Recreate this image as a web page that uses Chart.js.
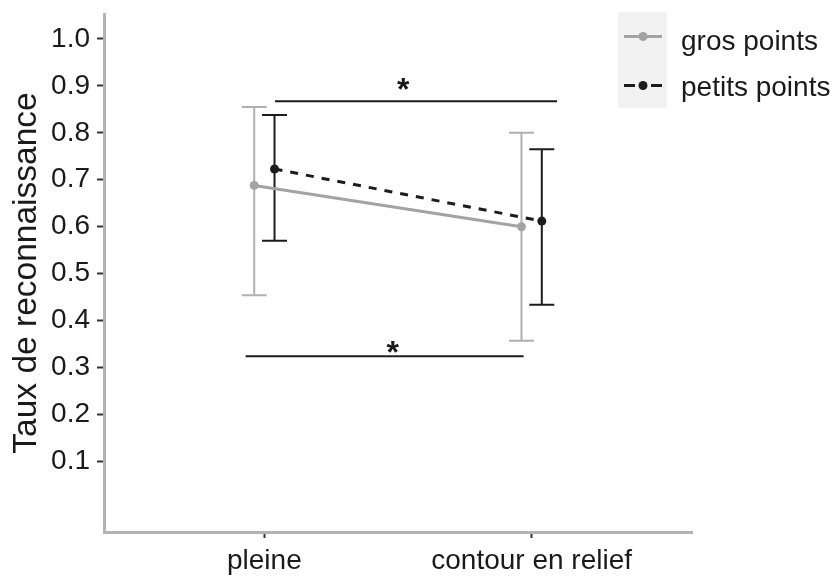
<!DOCTYPE html>
<html>
<head>
<meta charset="utf-8">
<script src="https://cdn.jsdelivr.net/npm/chart.js@4.4.0/dist/chart.umd.min.js"></script>
<style>
  html, body { margin: 0; padding: 0; background: #fff; }
</style>
</head>
<body>
<canvas id="chart" width="837" height="577"></canvas>
<script>
let conditions = ['pleine', 'contour en relief'];
let seriesNames = ['gros points', 'petits points'];

let grosMean = [0.688, 0.600];
let grosLow = [0.454, 0.357];
let grosHigh = [0.855, 0.800];

let petitsMean = [0.723, 0.612];
let petitsLow = [0.570, 0.434];
let petitsHigh = [0.838, 0.765];

let yTicks = [0.1, 0.2, 0.3, 0.4, 0.5, 0.6, 0.7, 0.8, 0.9, 1.0];

// significance brackets (x from / to, line level, star position)
let sigFrom = [1.04, 0.93];
let sigTo = [2.095, 1.97];
let sigLevel = [0.867, 0.324];
let sigStarX = [1.52, 1.48];
let sigStarY = [0.909, 0.349];

let dodge = 0.038;
let grey = '#a3a3a3';
let greyBar = '#b0b0b0';
let dark = '#1c1c1c';
let textCol = '#1a1a1a';
let fontFam = "'Liberation Sans', Arial, sans-serif";

const errorBars = {
    id: 'errorBars',
    beforeDatasetsDraw(chart) {
        const {ctx, scales: {x, y}} = chart;
        const groups = [
            [grosLow, grosHigh, -dodge, greyBar],
            [petitsLow, petitsHigh, dodge, dark]
        ];
        ctx.save();
        ctx.lineWidth = 2;
        groups.forEach(([lo, hi, off, col]) => {
            ctx.strokeStyle = col;
            lo.forEach((v, i) => {
                const px = x.getPixelForValue(i + 1 + off);
                const top = y.getPixelForValue(hi[i]);
                const bot = y.getPixelForValue(v);
                ctx.beginPath();
                ctx.moveTo(px, top); ctx.lineTo(px, bot);
                ctx.moveTo(px - 12.5, top); ctx.lineTo(px + 12.5, top);
                ctx.moveTo(px - 12.5, bot); ctx.lineTo(px + 12.5, bot);
                ctx.stroke();
            });
        });
        ctx.restore();
    },
    afterDatasetsDraw(chart) {
        const {ctx, scales: {x, y}} = chart;
        ctx.save();
        ctx.fillStyle = textCol;
        ctx.font = 'bold 32px ' + fontFam;
        ctx.textAlign = 'center';
        ctx.textBaseline = 'alphabetic';
        sigStarX.forEach((sx, i) => {
            ctx.fillText('*', x.getPixelForValue(sx), y.getPixelForValue(sigStarY[i]) + 18.5);
        });
        ctx.restore();
    }
};

// legend with line + point keys on a light grey panel
const legendKeys = {
    id: 'legendKeys',
    afterDraw(chart) {
        const ctx = chart.ctx;
        ctx.save();
        ctx.fillStyle = '#f2f2f2';
        ctx.fillRect(618, 12, 49, 96);

        ctx.lineWidth = 3;
        ctx.strokeStyle = grey;
        ctx.beginPath(); ctx.moveTo(624, 36.5); ctx.lineTo(662, 36.5); ctx.stroke();
        ctx.fillStyle = grey;
        ctx.beginPath(); ctx.arc(643, 36.5, 4.5, 0, Math.PI * 2); ctx.fill();

        ctx.strokeStyle = dark;
        ctx.beginPath();
        ctx.moveTo(624, 85.5); ctx.lineTo(635, 85.5);
        ctx.moveTo(651, 85.5); ctx.lineTo(662, 85.5);
        ctx.stroke();
        ctx.fillStyle = dark;
        ctx.beginPath(); ctx.arc(643, 85.5, 4.5, 0, Math.PI * 2); ctx.fill();

        ctx.fillStyle = textCol;
        ctx.font = '28px ' + fontFam;
        ctx.textAlign = 'left';
        ctx.textBaseline = 'middle';
        ctx.fillText(seriesNames[0], 681, 42);
        ctx.fillText(seriesNames[1], 681, 88);
        ctx.restore();
    }
};

function noPadding(s) {
    s.paddingTop = 0;
    s.paddingBottom = 0;
    s.paddingLeft = 0;
    s.paddingRight = 0;
}

let sigDatasets = sigFrom.map(function(x0, i) {
    return {
        label: 'sig' + i,
        data: [{x: x0, y: sigLevel[i]}, {x: sigTo[i], y: sigLevel[i]}],
        borderColor: dark,
        borderWidth: 2,
        pointRadius: 0
    };
});

let chart = new Chart(document.getElementById('chart'), {
    type: 'line',
    data: {
        datasets: [
            {
                label: seriesNames[1],
                data: petitsMean.map(function(v, i) {return {x: i + 1 + dodge, y: v};}),
                borderColor: dark,
                backgroundColor: dark,
                borderWidth: 3,
                borderDash: [8, 8],
                pointRadius: 4.5,
                pointBorderWidth: 0
            },
            {
                label: seriesNames[0],
                data: grosMean.map(function(v, i) {return {x: i + 1 - dodge, y: v};}),
                borderColor: grey,
                backgroundColor: grey,
                borderWidth: 3,
                pointRadius: 4.5,
                pointBorderWidth: 0
            }
        ].concat(sigDatasets)
    },
    options: {
        responsive: false,
        animation: false,
        devicePixelRatio: 1,
        layout: {padding: {top: 14, right: 145, left: 0, bottom: 0}},
        plugins: {
            legend: {display: false},
            tooltip: {enabled: false}
        },
        scales: {
            x: {
                type: 'linear',
                min: 0.4,
                max: 2.6,
                afterBuildTicks: function(s) {s.ticks = [1, 2].map(function(v) {return {value: v};});},
                afterFit: function(s) {s.height = 45; noPadding(s);},
                ticks: {
                    callback: function(v) {return conditions[Math.round(v) - 1];},
                    font: {size: 28, family: fontFam},
                    color: textCol,
                    padding: 6,
                    autoSkip: false,
                    maxRotation: 0
                },
                grid: {drawOnChartArea: false, tickLength: 6, tickColor: '#333', tickWidth: 2},
                border: {color: '#b3b3b3', width: 3}
            },
            y: {
                min: -0.05,
                max: 1.053,
                afterBuildTicks: function(s) {s.ticks = yTicks.map(function(v) {return {value: v};});},
                afterFit: function(s) {s.width = 104; noPadding(s);},
                ticks: {
                    callback: function(v) {return v.toFixed(1);},
                    font: {size: 28, family: fontFam},
                    color: textCol,
                    padding: 7,
                    autoSkip: false
                },
                grid: {drawOnChartArea: false, tickLength: 7, tickColor: '#333', tickWidth: 2},
                border: {color: '#b3b3b3', width: 3},
                title: {
                    display: true,
                    text: 'Taux de reconnaissance',
                    font: {size: 33.5, family: fontFam},
                    color: textCol,
                    padding: {top: 7, bottom: 0}
                }
            }
        }
    },
    plugins: [errorBars, legendKeys]
});
</script>
</body>
</html>
